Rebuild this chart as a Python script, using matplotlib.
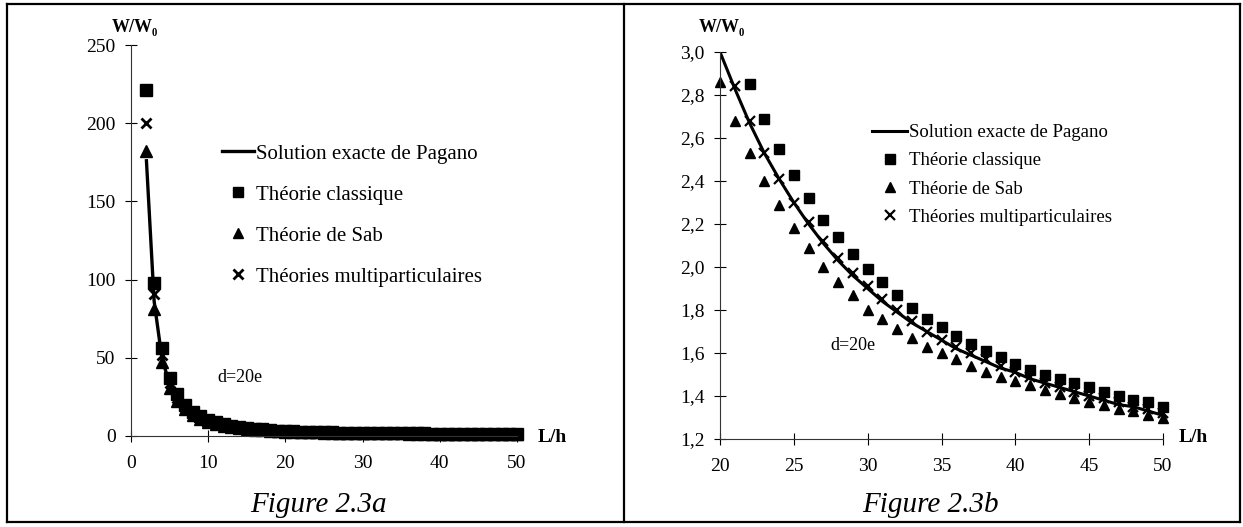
import matplotlib
matplotlib.use("Agg")
import matplotlib.pyplot as plt
from matplotlib.lines import Line2D

plt.rcParams['font.family'] = ['Liberation Serif', 'DejaVu Serif']

W, H = 1243, 527

# --- values (W/W0 against L/h) ---
# Figure 2.3b, L/h = 20..50
lh_b = list(range(20, 51))
exact_b = [3.00, 2.83, 2.67, 2.53, 2.41, 2.30, 2.20, 2.11, 2.03, 1.96, 1.90,
           1.84, 1.79, 1.74, 1.70, 1.66, 1.62, 1.59, 1.56, 1.53, 1.51,
           1.48, 1.46, 1.44, 1.42, 1.40, 1.38, 1.36, 1.35, 1.33, 1.31]
# squares start at 22, crosses at 21, triangles at 20 (as plotted in the scan)
lh_classic_b = list(range(22, 51))
classic_b = [2.85, 2.69, 2.55, 2.43, 2.32, 2.22, 2.14, 2.06, 1.99,
             1.93, 1.87, 1.81, 1.76, 1.72, 1.68, 1.64, 1.61, 1.58, 1.55,
             1.52, 1.50, 1.48, 1.46, 1.44, 1.42, 1.40, 1.38, 1.37, 1.35]
lh_sab_b = list(range(20, 51))
sab_b = [2.86, 2.68, 2.53, 2.40, 2.29, 2.18, 2.09, 2.00, 1.93, 1.87, 1.80,
         1.76, 1.71, 1.67, 1.63, 1.60, 1.57, 1.54, 1.51, 1.49, 1.47,
         1.45, 1.43, 1.41, 1.39, 1.37, 1.36, 1.34, 1.33, 1.31, 1.30]
lh_multi_b = list(range(21, 51))
multi_b = [2.84, 2.68, 2.53, 2.41, 2.30, 2.21, 2.12, 2.04, 1.97, 1.91,
           1.85, 1.80, 1.75, 1.70, 1.66, 1.63, 1.60, 1.57, 1.54, 1.51,
           1.49, 1.46, 1.44, 1.42, 1.40, 1.39, 1.37, 1.35, 1.34, 1.32]

# Figure 2.3a, L/h = 2..50 (tail from 20 on is the same data as 2.3b)
lh_a = list(range(2, 51))
exact_a = [176, 86, 50, 33, 23.5, 17.8, 14.0, 11.3, 9.3, 7.9, 6.8, 5.9, 5.2,
           4.7, 4.2, 3.8, 3.5, 3.2] + exact_b
classic_a = [221, 98, 56, 37, 27, 20, 15.5, 12.5, 10.3, 8.7, 7.4, 6.5, 5.7,
             5.1, 4.6, 4.2, 3.8, 3.5, 3.2, 3.0] + classic_b
sab_a = [182, 81, 47, 31, 22.5, 17, 13.5, 10.8, 9.0, 7.6, 6.6, 5.8, 5.1,
         4.6, 4.1, 3.7, 3.4, 3.1] + sab_b
multi_a = [200, 91, 52, 34, 24.5, 18.5, 14.5, 11.6, 9.6, 8.1, 7.0, 6.1, 5.4,
           4.8, 4.3, 3.9, 3.6, 3.3, 3.05] + multi_b

labels = ["Solution exacte de Pagano", "Théorie classique",
          "Théorie de Sab", "Théories multiparticulaires"]


def box(x0, y0, x1, y1):
    # pixel box -> figure fraction [left, bottom, width, height]
    return [x0 / W, 1 - y1 / H, (x1 - x0) / W, (y1 - y0) / H]


def pt(x, y):
    return x / W, 1 - y / H


fig = plt.figure(figsize=(W / 100, H / 100), dpi=100)

# frame of the scanned page
for xs, ys in [([7, 1240], [4, 4]), ([7, 1240], [522, 522]),
               ([7, 7], [4, 522]), ([1240, 1240], [4, 522]),
               ([624, 624], [4, 522])]:
    fig.add_artist(Line2D([x / W for x in xs], [1 - y / H for y in ys],
                          color='black', lw=1.6))


def style(ax):
    for s in ['top', 'right']:
        ax.spines[s].set_visible(False)
    for s in ['left', 'bottom']:
        ax.spines[s].set_linewidth(0.8)
        ax.spines[s].set_color('#333333')
    ax.tick_params(direction='inout', length=8, width=0.8, labelsize=14,
                   colors='black')
    ax.tick_params(axis='x', pad=10)
    ax.tick_params(axis='y', pad=7)
    ax.patch.set_alpha(0)


# ----- Figure 2.3a -----
ax1 = fig.add_axes(box(131, 45, 517, 436))
ax1.plot(lh_a, exact_a, color='black', lw=2.4, label=labels[0], zorder=2)
ax1.plot(lh_a, classic_a, 's', color='black', ms=8.5, label=labels[1], clip_on=False)
ax1.plot(lh_a, sab_a, '^', color='black', ms=8.5, label=labels[2], clip_on=False)
ax1.plot(lh_a, multi_a, 'x', color='black', ms=7.5, mew=2, label=labels[3], clip_on=False)
ax1.set_xlim(0, 50)
ax1.set_ylim(0, 250)
ax1.set_xticks(range(0, 51, 10))
ax1.set_yticks(range(0, 251, 50))
style(ax1)
ax1.legend(loc='upper left', bbox_to_anchor=pt(222, 144), bbox_transform=fig.transFigure,
           frameon=False, fontsize=15, handlelength=1.55, handletextpad=0.1,
           labelspacing=1.03, borderpad=0, borderaxespad=0, markerscale=0.9)

fig.text(*pt(135, 28), "W/W₀", ha='center', va='center', fontsize=13,
         fontweight='bold')
fig.text(*pt(552, 437), "L/h", ha='center', va='center', fontsize=14,
         fontweight='bold')
fig.text(*pt(240, 378), "d=20e", ha='center', va='center', fontsize=13)
fig.text(*pt(318, 505), "Figure 2.3a", ha='center', va='center',
         fontsize=21, style='italic')

# ----- Figure 2.3b -----
ax2 = fig.add_axes(box(720, 52, 1163, 439))
ax2.plot(lh_b, exact_b, color='black', lw=2.2, label=labels[0], zorder=2)
ax2.plot(lh_classic_b, classic_b, 's', color='black', ms=7.5, label=labels[1], clip_on=False)
ax2.plot(lh_sab_b, sab_b, '^', color='black', ms=7.5, label=labels[2], clip_on=False)
ax2.plot(lh_multi_b, multi_b, 'x', color='black', ms=7, mew=1.6, label=labels[3], clip_on=False)
ax2.set_xlim(20, 50)
ax2.set_ylim(1.2, 3.0)
ax2.set_xticks(range(20, 51, 5))
yt = [1.2, 1.4, 1.6, 1.8, 2.0, 2.2, 2.4, 2.6, 2.8, 3.0]
ax2.set_yticks(yt)
ax2.set_yticklabels([f"{v:.1f}".replace('.', ',') for v in yt])
style(ax2)
ax2.legend(loc='upper left', bbox_to_anchor=pt(872, 124), bbox_transform=fig.transFigure,
           frameon=False, fontsize=13.5, handlelength=1.87, handletextpad=0.1,
           labelspacing=0.59, borderpad=0, borderaxespad=0)

fig.text(*pt(722, 27), "W/W₀", ha='center', va='center', fontsize=13,
         fontweight='bold')
fig.text(*pt(1193, 437), "L/h", ha='center', va='center', fontsize=14,
         fontweight='bold')
fig.text(*pt(853, 345), "d=20e", ha='center', va='center', fontsize=13)
fig.text(*pt(930, 505), "Figure 2.3b", ha='center', va='center',
         fontsize=21, style='italic')

fig.savefig("out.png", dpi=100)
